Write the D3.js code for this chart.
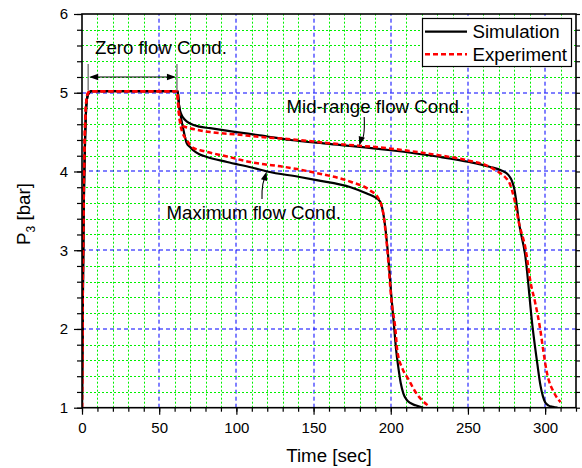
<!DOCTYPE html>
<html>
<head>
<meta charset="utf-8">
<script src="https://cdn.jsdelivr.net/npm/d3@7"></script>
<style>
  body { margin: 0; background: #fff; }
  svg text { font-family: "Liberation Sans", Arial, sans-serif; fill: #000; }
</style>
</head>
<body>
<svg id="chart" width="582" height="468"></svg>
<script>
// values (time [s], P3 [bar])
const xTicks = [0, 50, 100, 150, 200, 250, 300];
const yTicks = [1, 2, 3, 4, 5, 6];
const xMinor = d3.range(0, 33).map((v) => v * 10);
const yMinor = d3.range(5, 31).map((v) => v / 5);

const simMid = [[0, 1], [0.5, 2.2], [1, 3.3], [2, 4.4], [3, 4.88], [4, 4.98], [6, 5.02], [62, 5.02],
  [62.8, 4.85], [64, 4.74], [67, 4.65], [70, 4.61], [76, 4.57], [83, 4.55], [100, 4.5], [115, 4.46],
  [135, 4.4], [160, 4.35], [200, 4.27], [230, 4.19], [251, 4.12], [264, 4.06], [272, 4.01], [276, 3.96],
  [278.5, 3.88], [280, 3.78], [283.5, 3.3], [287, 2.95], [292, 2.0], [295, 1.55], [297, 1.28],
  [298.5, 1.15], [300, 1.07], [302, 1.03], [305, 1.01], [308, 1.0]];
const expMid = [[0, 1], [0.5, 2.6], [1, 3.6], [2, 4.6], [3, 4.93], [4, 5.0], [6, 5.02], [61.5, 5.02],
  [62.5, 4.8], [63.5, 4.65], [65, 4.58], [70, 4.55], [83, 4.5], [100, 4.47], [115, 4.44], [135, 4.41],
  [160, 4.36], [200, 4.29], [230, 4.21], [250, 4.14], [264, 4.06], [270, 3.99], [274, 3.93], [277, 3.85],
  [280, 3.65], [283, 3.35], [287.5, 3.0], [290.5, 2.6], [293.6, 2.33], [296.8, 2.0], [299, 1.7],
  [301.2, 1.44], [302.5, 1.34], [305, 1.22], [308.7, 1.1], [310, 1.07]];
const simMax = [[0, 1], [0.5, 2.2], [1, 3.3], [2, 4.4], [3, 4.88], [4, 4.98], [6, 5.02], [62, 5.02],
  [62.8, 4.85], [64, 4.7], [66, 4.5], [67.8, 4.36], [70, 4.31], [72, 4.27], [76, 4.22], [80, 4.19],
  [94, 4.12], [110, 4.05], [120, 4.0], [141, 3.93], [152, 3.89], [174, 3.8], [184.5, 3.72], [190, 3.67],
  [193, 3.62], [196.4, 3.3], [198, 3.0], [200.7, 2.35], [202.3, 2.0], [203.5, 1.73], [205, 1.5],
  [206.5, 1.31], [208.2, 1.18], [210, 1.11], [212.6, 1.06], [216, 1.03], [221, 1.0]];
const expMax = [[0, 1], [0.5, 2.6], [1, 3.6], [2, 4.6], [3, 4.93], [4, 5.0], [6, 5.02], [61.5, 5.02],
  [62.5, 4.8], [63.5, 4.62], [65, 4.5], [67.8, 4.4], [72, 4.3], [78.6, 4.26], [94, 4.19], [109, 4.12],
  [115, 4.1], [130.5, 4.06], [152, 3.98], [174, 3.87], [186.6, 3.76], [192, 3.66], [195.3, 3.45],
  [197.8, 3.0], [200.5, 2.35], [203, 2.0], [204.2, 1.73], [207.5, 1.5], [211.5, 1.36], [216, 1.2],
  [220, 1.1], [224, 1.03]];

const series = [
  { name: 'Simulation', color: '#000', dash: null, width: 2.2 },
  { name: 'Experiment', color: '#ff0000', dash: '5,3', width: 2.5 },
];

const svg = d3.select('#chart');
const x = d3.scaleLinear().domain([0, 320]).range([82, 576]);
const y = d3.scaleLinear().domain([1, 6]).range([407.7, 14]);
const [x0, x1] = x.range();
const [y0, y1] = y.range();
const snapMinor = (v) => Math.round(v) + 0.5;
const snapMajor = (v) => Math.round(v);

svg.append('defs').append('clipPath').attr('id', 'clip')
  .append('rect').attr('x', x0).attr('y', y1).attr('width', x1 - x0).attr('height', y0 - y1);

// grid: green dotted every 10 s / 0.2 bar, blue dashed on the major ticks
const grid = svg.append('g');
const isMajorX = (v) => v % 50 === 0;
const isMajorY = (v) => Math.abs(v - Math.round(v)) < 1e-6;
const gxPos = (d) => (isMajorX(d) ? snapMajor(x(d)) : snapMinor(x(d)));
const gyPos = (d) => (isMajorY(d) ? snapMajor(y(d)) : snapMinor(y(d)));
grid.selectAll('.gx').data(xMinor.filter((v) => v > 0 && v < 320)).join('line')
  .attr('x1', gxPos).attr('x2', gxPos).attr('y1', y0).attr('y2', y1)
  .attr('stroke', (d) => (isMajorX(d) ? '#0000ff' : '#00f000'))
  .attr('stroke-dasharray', (d) => (isMajorX(d) ? '4,3' : '2,2'))
  .attr('stroke-width', 1);
grid.selectAll('.gy').data(yMinor.filter((v) => v > 1.01 && v < 5.99)).join('line')
  .attr('y1', gyPos).attr('y2', gyPos).attr('x1', x0).attr('x2', x1)
  .attr('stroke', (d) => (isMajorY(d) ? '#0000ff' : '#00f000'))
  .attr('stroke-dasharray', (d) => (isMajorY(d) ? '4,3' : '2,2'))
  .attr('stroke-width', 1);

// curves
const line = d3.line().x((d) => x(d[0])).y((d) => y(d[1])).curve(d3.curveMonotoneX);
const curves = svg.append('g').attr('clip-path', 'url(#clip)');
[[simMid, series[0]], [simMax, series[0]], [expMid, series[1]], [expMax, series[1]]].forEach(([data, s]) => {
  curves.append('path').datum(data).attr('d', line)
    .attr('fill', 'none').attr('stroke', s.color).attr('stroke-width', s.width)
    .attr('stroke-dasharray', s.dash).attr('stroke-linejoin', 'round');
});

// axes
function styleAxis(g) {
  g.select('.domain').remove();
  g.selectAll('line').attr('stroke', '#000').attr('stroke-width', 1.2);
  g.selectAll('text').attr('font-size', 15).attr('font-family', '"Liberation Sans", Arial, sans-serif');
}
const fmt = d3.format('d');
svg.append('g').attr('transform', `translate(0,${y0})`)
  .call(d3.axisBottom(x).tickValues(xMinor).tickSize(4).tickFormat('')).call(styleAxis);
svg.append('g').attr('transform', `translate(0,${y0})`)
  .call(d3.axisBottom(x).tickValues(xTicks).tickSize(7).tickPadding(8).tickFormat(fmt)).call(styleAxis);
svg.append('g').attr('transform', `translate(${x0},0)`)
  .call(d3.axisLeft(y).tickValues(yMinor).tickSize(5).tickFormat('')).call(styleAxis);
svg.append('g').attr('transform', `translate(${x0},0)`)
  .call(d3.axisLeft(y).tickValues(yTicks).tickSize(8).tickPadding(6).tickFormat(fmt)).call(styleAxis);
svg.append('g').attr('transform', `translate(${x1},0)`)
  .call(d3.axisRight(y).tickValues(yMinor).tickSize(4).tickFormat('')).call(styleAxis);

svg.append('rect').attr('x', x0).attr('y', y1).attr('width', x1 - x0).attr('height', y0 - y1)
  .attr('fill', 'none').attr('stroke', '#000').attr('stroke-width', 1.6);

// axis titles
svg.append('text').attr('x', 329).attr('y', 462).attr('text-anchor', 'middle')
  .attr('font-size', 18.7).text('Time [sec]');
const yl = svg.append('text').attr('transform', 'translate(30,214) rotate(-90)')
  .attr('text-anchor', 'middle').attr('font-size', 18.7);
yl.append('tspan').text('P');
yl.append('tspan').attr('font-size', 12).attr('dy', 5).text('3');
yl.append('tspan').attr('dy', -5).text(' [bar]');

// annotations
const ann = svg.append('g');
const arrowHead = (px, py, ang) => {
  const L = 9, W = 3.2;
  const c = Math.cos(ang), s = Math.sin(ang);
  const p1 = [px - L * c + W * s, py - L * s - W * c];
  const p2 = [px - L * c - W * s, py - L * s + W * c];
  ann.append('path').attr('d', `M${px},${py}L${p1[0]},${p1[1]}L${p2[0]},${p2[1]}Z`).attr('fill', '#000');
};

// zero flow
ann.selectAll('.bar').data([4, 61.5]).join('line')
  .attr('x1', (d) => x(d)).attr('x2', (d) => x(d)).attr('y1', y(5.365)).attr('y2', y(5.03))
  .attr('stroke', '#808080').attr('stroke-width', 1.5);
const ya = y(5.2);
ann.append('line').attr('x1', x(4) + 3).attr('x2', x(61.5) - 3).attr('y1', ya).attr('y2', ya)
  .attr('stroke', '#000').attr('stroke-width', 1.2);
arrowHead(x(4) + 1, ya, Math.PI);
arrowHead(x(61.5) - 1, ya, 0);
ann.append('text').attr('x', 95).attr('y', 54).attr('font-size', 18.7).text('Zero flow Cond.');

// mid-range flow
ann.append('text').attr('x', 286.5).attr('y', 112.5).attr('font-size', 18.7).text('Mid-range flow Cond.');
{
  const sx = x(182.8), sy = 117, ex = x(179.6), ey = y(4.33);
  ann.append('path').attr('d', `M${sx},${sy}Q${sx + 1},${ey - 6} ${ex + 1},${ey - 4}`)
    .attr('fill', 'none').attr('stroke', '#000').attr('stroke-width', 1.1);
  arrowHead(ex, ey, Math.atan2(4, -1.2));
}

// maximum flow
ann.append('text').attr('x', 166.5).attr('y', 218.5).attr('font-size', 18.7).text('Maximum flow Cond.');
{
  const sx = 262, sy = 199, ex = x(119.6), ey = y(4.0);
  ann.append('path').attr('d', `M${sx},${sy}Q${sx - 0.5},${ey + 10} ${ex - 0.5},${ey + 4}`)
    .attr('fill', 'none').attr('stroke', '#000').attr('stroke-width', 1.1);
  arrowHead(ex, ey, Math.atan2(-4, 1.2));
}

// legend
const lg = svg.append('g');
lg.append('rect').attr('x', 422.5).attr('y', 18.5).attr('width', 149).attr('height', 48)
  .attr('fill', '#fff').attr('stroke', '#000').attr('stroke-width', 1.2);
series.forEach((s, i) => {
  const cy = 31.7 + i * 22.6;
  lg.append('line').attr('x1', 425).attr('x2', 467).attr('y1', cy).attr('y2', cy)
    .attr('stroke', s.color).attr('stroke-width', s.width).attr('stroke-dasharray', s.dash);
  lg.append('text').attr('x', 472.5).attr('y', cy).attr('dy', '0.35em')
    .attr('font-size', 18.7).text(s.name);
});
</script>
</body>
</html>
